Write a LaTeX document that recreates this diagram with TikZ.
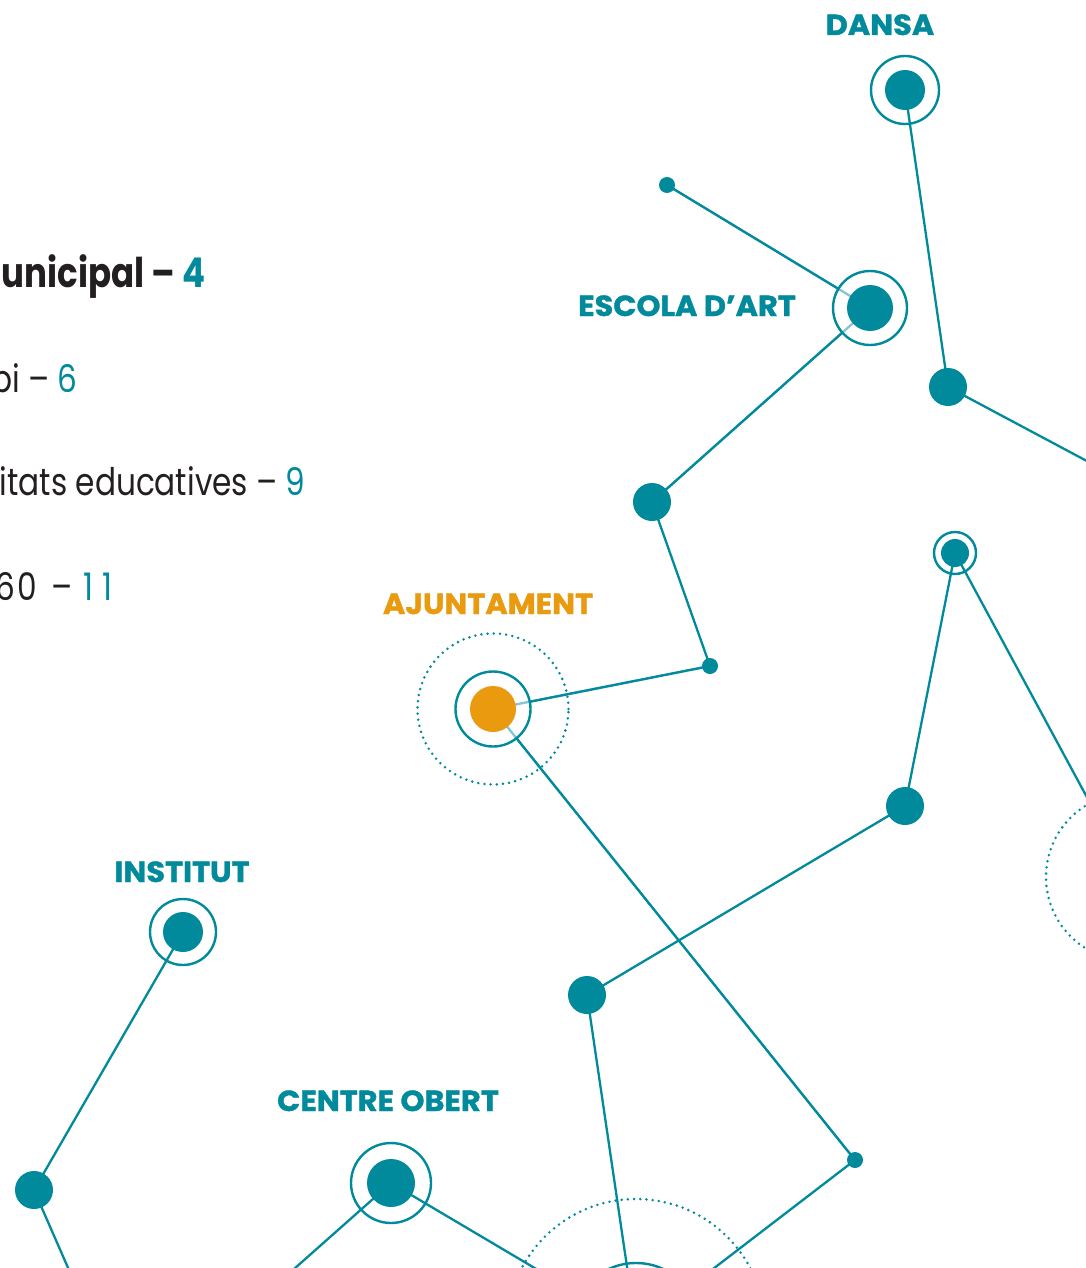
\documentclass[tikz,border=0pt]{standalone}
\usepackage{fontspec}
\setmainfont{Poppins}
\newfontfamily\labfont[FakeStretch=1.05, BoldFeatures={FakeBold=1.2}]{Poppins}
\newfontfamily\txtfont[FakeStretch=0.82]{Poppins}
\newfontfamily\txtbfont[FakeStretch=0.83]{Poppins}
\definecolor{tealc}{HTML}{008A9B}
\definecolor{orangec}{HTML}{E99A0F}
\definecolor{lightc}{HTML}{86C5CD}
\definecolor{darkc}{HTML}{231F20}
\pgfdeclarelayer{bg}
\pgfsetlayers{bg,main}
\tikzset{
  dotn/.style={circle, fill=tealc, inner sep=0pt, outer sep=0pt},
  ringn/.style={circle, draw=tealc, line width=2.4pt, inner sep=0pt, outer sep=0pt},
  halo/.style={circle, draw=tealc, line width=2.8pt, dash pattern=on 0pt off 6.2pt, line cap=round, inner sep=0pt, outer sep=0pt},
  conn/.style={draw=tealc, line width=2.3pt},
  lightconn/.style={draw=lightc, line width=2.3pt},
  lab/.style={anchor=base, text=tealc, font=\labfont\bfseries\fontsize{29}{29}\selectfont},
  txt/.style={anchor=base east, text=darkc, font=\txtfont\fontsize{38}{38}\selectfont},
}
\begin{document}
\begin{tikzpicture}[x=1pt,y=-1pt]
\useasboundingbox (0,0) rectangle (1085,1268);
% left texts
\node[txt, font=\txtbfont\bfseries\fontsize{41}{41}\selectfont] (t1) at (209,287) {unicipal – \textcolor{tealc}{4}};
\node[txt] (t2) at (81,392) {bi – \textcolor{tealc}{6}};
\node[txt] (t3) at (309,495) {nitats educatives – \textcolor{tealc}{9}};
\node[txt] (t4) at (116,600) {6\kern2pt0\kern6pt{} – \kern3pt\textcolor{tealc}{1\kern9pt1}};
% Dansa
\node[ringn, minimum size=68pt] (dansaR) at (905,90) {};
\node[dotn, minimum size=40pt] (dansa) at (905,90) {};
\node[lab] (dansaL) at (880,35) {DANSA};
% small dots
\node[dotn, minimum size=16pt] (s1) at (667,185) {};
\node[dotn, minimum size=16pt] (s2) at (710,666) {};
\node[dotn, minimum size=16pt] (s3) at (855,1160) {};
% Escola d'art
\node[ringn, minimum size=74pt] (escR) at (870,308) {};
\node[dotn, minimum size=46pt] (esc) at (870,308) {};
\node[lab] (escL) at (687,316) {ESCOLA D’ART};
% medium dots
\node[dotn, minimum size=38pt] (m1) at (948,387) {};
\node[dotn, minimum size=38pt] (m2) at (652,502) {};
\node[dotn, minimum size=38pt] (m3) at (905,806) {};
\node[dotn, minimum size=38pt] (m4) at (587,995) {};
\node[dotn, minimum size=38pt] (m5) at (34,1190) {};
% Ajuntament
\node[halo, minimum size=151pt] (ajH) at (493,709) {};
\node[ringn, minimum size=75pt] (ajR) at (493,709) {};
\node[circle, fill=orangec, inner sep=0pt, minimum size=46pt] (aj) at (493,709) {};
\node[lab, text=orangec] (ajL) at (488,614) {AJUNTAMENT};
% small ringed node
\node[ringn, minimum size=42pt] (nR) at (955,553) {};
\node[dotn, minimum size=28pt] (n) at (955,553) {};
% right halo
\node[halo, minimum size=168pt] (rh) at (1130,877) {};
% bottom node
\node[halo, minimum size=258pt] (botH) at (636,1328) {};
\node[ringn, minimum size=130pt] (botR) at (636,1328) {};
\node[dotn, minimum size=80pt] (bot) at (636,1328) {};
% Centre obert
\node[ringn, minimum size=80pt] (coR) at (391,1183) {};
\node[dotn, minimum size=48pt] (co) at (391,1183) {};
\node[lab] (coL) at (388,1111) {CENTRE OBERT};
% Institut
\node[ringn, minimum size=66pt] (inR) at (183,932) {};
\node[dotn, minimum size=40pt] (ins) at (183,932) {};
\node[lab] (inL) at (182,882) {INSTITUT};
% off-page ends
\coordinate (o1) at (1220,532);
\coordinate (o2) at (250,1308);
\coordinate (o3) at (90,1318);
\begin{pgfonlayer}{bg}
\draw[conn] (dansa.center) -- (m1.center);
\draw[conn] (m1.center) -- (o1);
\draw[lightconn] (s1.center) -- (esc.center);
\draw[conn] (s1.center) -- (escR);
\draw[lightconn] (esc.center) -- (m2.center);
\draw[conn] (escR) -- (m2.center);
\draw[conn] (m2.center) -- (s2.center);
\draw[lightconn] (s2.center) -- (aj.center);
\draw[conn] (s2.center) -- (ajR);
\draw[lightconn] (aj.center) -- (s3.center);
\draw[conn] (ajR) -- (s3.center);
\draw[conn] (n.center) -- (m3.center);
\draw[conn] (n.center) -- (rh.center);
\draw[conn] (m3.center) -- (m4.center);
\draw[conn] (m4.center) -- (bot.center);
\draw[conn] (s3.center) -- (bot.center);
\draw[conn] (co.center) -- (bot.center);
\draw[conn] (co.center) -- (o2);
\draw[conn] (ins.center) -- (m5.center);
\draw[conn] (m5.center) -- (o3);
\end{pgfonlayer}
\end{tikzpicture}
\end{document}
